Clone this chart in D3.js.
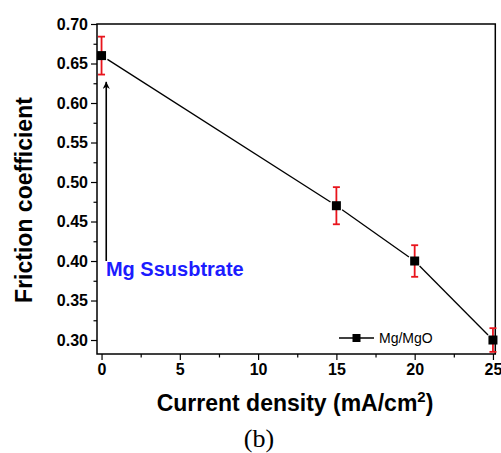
<!DOCTYPE html>
<html>
<head>
<meta charset="utf-8">
<script src="https://cdn.jsdelivr.net/npm/d3@7"></script>
<style>
  body { margin: 0; background: #fff; }
  text { font-family: "Liberation Sans", Arial, sans-serif; }
</style>
</head>
<body>
<div id="chart"></div>
<script>
// current density (mA/cm2) vs friction coefficient
var density = [0, 15, 20, 25];
var friction = [0.66, 0.47, 0.40, 0.30];
var frictionErr = [0.024, 0.0235, 0.02, 0.015];
var xTicks = [0, 5, 10, 15, 20, 25];
var yTicks = [0.30, 0.35, 0.40, 0.45, 0.50, 0.55, 0.60, 0.65, 0.70];
var seriesName = "Mg/MgO";

var width = 501, height = 453;
var box = { left: 97, right: 495.3, top: 24, bottom: 354 };

var svg = d3.select("#chart").append("svg")
  .attr("width", width)
  .attr("height", height);

var x = d3.scaleLinear().domain([-0.29, 25.15]).range([box.left, box.right]);
var y = d3.scaleLinear().domain([0.2823, 0.70]).range([box.bottom, box.top]);

// frame
svg.append("rect")
  .attr("x", box.left).attr("y", box.top)
  .attr("width", box.right - box.left).attr("height", box.bottom - box.top)
  .attr("fill", "none").attr("stroke", "#000").attr("stroke-width", 1.5);

// minor ticks first, then major axes on top
var xMinor = d3.axisBottom(x).tickValues(d3.range(2.5, 25, 5)).tickSize(3.5).tickFormat("");
var yMinor = d3.axisLeft(y).tickValues(d3.range(0.325, 0.70, 0.05)).tickSize(3.5).tickFormat("");

svg.append("g").attr("transform", "translate(0," + box.bottom + ")").call(xMinor);
svg.append("g").attr("transform", "translate(" + box.left + ",0)").call(yMinor);

var xAxis = d3.axisBottom(x).tickValues(xTicks).tickSize(6).tickPadding(4).tickFormat(d3.format("d"));
var yAxis = d3.axisLeft(y).tickValues(yTicks).tickSize(6).tickPadding(3).tickFormat(d3.format(".2f"));

svg.append("g").attr("class", "xaxis").attr("transform", "translate(0," + box.bottom + ")").call(xAxis);
svg.append("g").attr("class", "yaxis").attr("transform", "translate(" + box.left + ",0)").call(yAxis);

svg.selectAll(".domain").remove();
svg.selectAll(".tick line").attr("stroke", "#000").attr("stroke-width", 1.2);
svg.selectAll(".xaxis text, .yaxis text")
  .attr("fill", "#000")
  .style("font-family", "Liberation Sans, Arial, sans-serif")
  .style("font-size", "16px")
  .style("font-weight", "bold");

// connecting line, cut short near the markers like Origin does
var pts = density.map(function(d, i) { return [x(d), y(friction[i])]; });
var gap = 7;
for (var i = 0; i < pts.length - 1; i++) {
  var a = pts[i], b = pts[i + 1];
  var dx = b[0] - a[0], dy = b[1] - a[1];
  var len = Math.sqrt(dx * dx + dy * dy);
  svg.append("line")
    .attr("x1", a[0] + dx / len * gap).attr("y1", a[1] + dy / len * gap)
    .attr("x2", b[0] - dx / len * gap).attr("y2", b[1] - dy / len * gap)
    .attr("stroke", "#000").attr("stroke-width", 1.3);
}

// error bars
var eb = svg.append("g").attr("stroke", "#e8141c").attr("stroke-width", 1.8);
density.forEach(function(d, i) {
  var cx = x(d), hi = y(friction[i] + frictionErr[i]), lo = y(friction[i] - frictionErr[i]);
  eb.append("line").attr("x1", cx).attr("x2", cx).attr("y1", hi).attr("y2", lo);
  eb.append("line").attr("x1", cx - 3.5).attr("x2", cx + 3.5).attr("y1", hi).attr("y2", hi);
  eb.append("line").attr("x1", cx - 3.5).attr("x2", cx + 3.5).attr("y1", lo).attr("y2", lo);
});

// markers
svg.selectAll("rect.pt").data(density).enter().append("rect")
  .attr("class", "pt")
  .attr("x", function(d) { return x(d) - 4.5; })
  .attr("y", function(d, i) { return y(friction[i]) - 4.5; })
  .attr("width", 9).attr("height", 9)
  .attr("fill", "#000");

// arrow pointing at the substrate point
svg.append("defs").append("marker")
  .attr("id", "head").attr("viewBox", "0 0 10 10")
  .attr("refX", 10).attr("refY", 5)
  .attr("markerWidth", 6.5).attr("markerHeight", 4.5)
  .attr("markerUnits", "strokeWidth")
  .attr("orient", "auto")
  .append("path").attr("d", "M0,0 L10,5 L0,10 L3,5 Z").attr("fill", "#000");

svg.append("line")
  .attr("x1", x(0.3)).attr("x2", x(0.3))
  .attr("y1", y(0.40)).attr("y2", y(0.6268))
  .attr("stroke", "#000").attr("stroke-width", 1.6)
  .attr("marker-end", "url(#head)");

svg.append("text")
  .attr("x", x(0.28)).attr("y", y(0.3805))
  .attr("fill", "#1c1cff")
  .style("font-size", "20px").style("font-weight", "bold")
  .text("Mg Ssusbtrate");

// legend
var lg = svg.append("g").attr("transform", "translate(339,338)");
lg.append("line").attr("x1", 0).attr("x2", 35).attr("y1", 0).attr("y2", 0)
  .attr("stroke", "#000").attr("stroke-width", 1.3);
lg.append("rect").attr("x", 13.5).attr("y", -4).attr("width", 8).attr("height", 8).attr("fill", "#000");
lg.append("text").attr("x", 40).attr("y", 5)
  .style("font-size", "14px").attr("fill", "#000")
  .text(seriesName);

// axis titles
svg.append("text")
  .attr("transform", "translate(32,200) rotate(-90)")
  .attr("text-anchor", "middle")
  .style("font-size", "23px").style("font-weight", "bold")
  .text("Friction coefficient");

var xt = svg.append("text")
  .attr("x", 295).attr("y", 411)
  .attr("text-anchor", "middle")
  .style("font-size", "23px").style("font-weight", "bold");
xt.append("tspan").text("Current density (mA/cm");
xt.append("tspan").attr("dy", -9).style("font-size", "15px").text("2");
xt.append("tspan").attr("dy", 9).text(")");

svg.append("text")
  .attr("x", 259).attr("y", 447)
  .attr("text-anchor", "middle")
  .style("font-family", "Liberation Serif, serif")
  .style("font-size", "26px")
  .text("(b)");
</script>
</body>
</html>
